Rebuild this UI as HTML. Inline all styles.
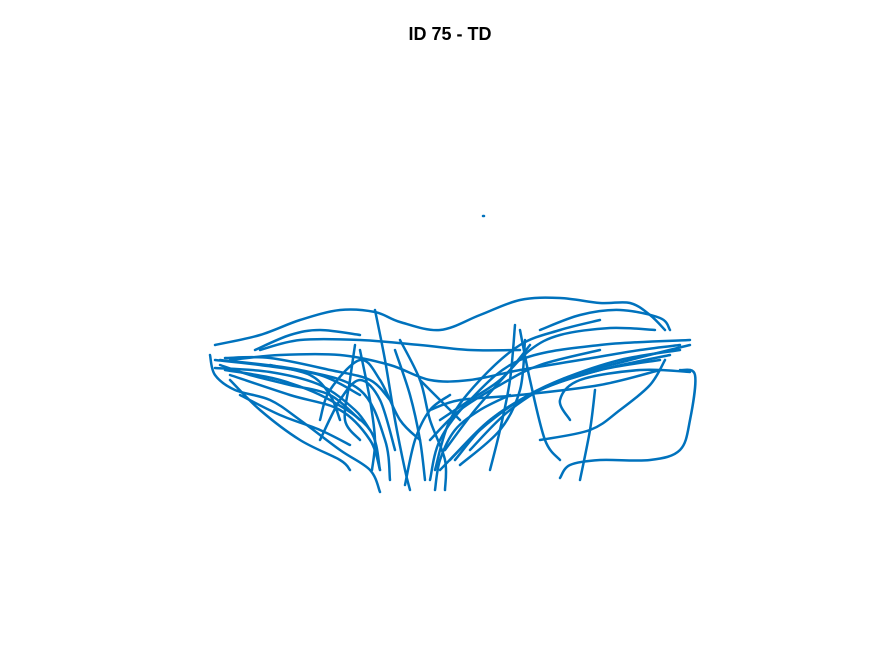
<!DOCTYPE html>
<html><head><meta charset="utf-8">
<style>
html,body{margin:0;padding:0;background:#fff;}
svg{display:block;}
</style></head>
<body>
<svg id="chart" width="875" height="656" xmlns="http://www.w3.org/2000/svg">
<rect x="0" y="0" width="875" height="656" fill="#fff"/>
<text x="450" y="40" text-anchor="middle" font-family="Liberation Sans, sans-serif" font-weight="bold" font-size="18" fill="#000">ID 75 - TD</text>
<g id="plot"></g>
</svg>
<script>
// trajectory strokes: x values and y values (data units)
const strokeXs = [
 [15,60,100,140,175,200,240,280,320,360,400,430,450,465],
 [10,15,35,70,100,140,170,180],
 [20,100,160,185,190],
 [480,495,490,480,450,400,370,360],
 [400,360,320,280,250,235],
 [470,400,340,290,255],
 [490,400,320,270,240,230],
 [175,185,195,205,210],
 [315,310,300,290],
 [30,80,140,190,230,270,320,380,440,480],
 [25,80,130,170,180],
 [60,100,160,220,270,320],
 [370,360,380,440,490],
 [340,390,420,450,465],
 [30,60,100,140,150],
 [155,150,145,160],
 [120,130,160,180,200,220],
 [240,270,300,330,360,410,455],
 [320,330,345,360],
 [395,390,380],
 [70,110,130,140],
 [230,260,320,400,460],
 [200,220,230,245,245],
 [15,60,120,160],
 [20,50,90,130,160],
 [25,70,130,170,190],
 [30,90,140,170,180],
 [240,280,320,360,420,480],
 [250,290,340,400,460],
 [245,275,310,330],
 [260,300,320,325],
 [270,310,360,430,490],
 [340,380,420,460,470],
 [160,170,175,172],
 [195,210,220,225],
 [55,90,120,160],
 [220,240,260],
 [230,260,300,340,400],
 [235,240,255,280,310],
 [205,215,230,250],
 [120,140,160,180,195],
 [15,70,120,155,170],
 [40,80,120,150],
 [283,284]
];
const strokeYs = [
 [55,45,30,20,22,32,40,25,10,8,13,13,25,40],
 [65,85,100,110,130,160,180,202],
 [70,80,100,150,190],
 [80,85,130,160,170,170,175,188],
 [30,40,55,90,130,180],
 [65,80,100,130,170],
 [50,55,70,110,150,190],
 [20,70,130,180,200],
 [35,90,140,180],
 [70,65,65,75,90,90,80,70,60,55],
 [80,90,110,140,180],
 [60,50,50,55,60,60],
 [130,110,90,80,82],
 [150,140,120,95,70],
 [90,120,150,170,180],
 [55,90,130,150],
 [130,100,70,90,130,150],
 [130,110,90,60,45,38,40],
 [40,90,150,170],
 [100,140,190],
 [75,85,105,130],
 [120,110,105,95,80],
 [50,90,130,170,200],
 [70,75,85,105],
 [75,85,95,105,130],
 [68,68,80,90,110],
 [85,105,120,150,180],
 [180,140,110,90,70,60],
 [170,130,100,80,70],
 [160,120,80,55],
 [175,140,100,50],
 [160,120,90,70,55],
 [40,25,20,28,40],
 [60,110,150,180],
 [60,105,150,190],
 [60,45,40,45],
 [90,110,130],
 [150,120,95,75,60],
 [200,170,140,120,105],
 [195,150,120,105],
 [150,110,90,110,160],
 [78,82,95,120,140],
 [105,125,140,155],
 [-74,-74]
];
const X0 = 200, Y0 = 290;
function xScale(v){ return X0 + v; }
function yScale(v){ return Y0 + v; }
function smoothPath(pts){
  if (pts.length < 3) return 'M' + pts.map(p => p.join(',')).join(' L');
  let d = 'M' + pts[0][0] + ',' + pts[0][1];
  for (let i = 0; i < pts.length - 1; i++) {
    const p0 = pts[i - 1] || pts[i], p1 = pts[i], p2 = pts[i + 1], p3 = pts[i + 2] || p2;
    const c1x = p1[0] + (p2[0] - p0[0]) / 6, c1y = p1[1] + (p2[1] - p0[1]) / 6;
    const c2x = p2[0] - (p3[0] - p1[0]) / 6, c2y = p2[1] - (p3[1] - p1[1]) / 6;
    d += ' C' + c1x + ',' + c1y + ' ' + c2x + ',' + c2y + ' ' + p2[0] + ',' + p2[1];
  }
  return d;
}
const plot = document.getElementById('plot');
const NS = 'http://www.w3.org/2000/svg';
strokeXs.forEach((xs, i) => {
  const ys = strokeYs[i];
  const pts = xs.map((x, j) => [xScale(x), yScale(ys[j])]);
  const p = document.createElementNS(NS, 'path');
  p.setAttribute('d', smoothPath(pts));
  p.setAttribute('fill', 'none');
  p.setAttribute('stroke', '#0072BD');
  p.setAttribute('stroke-width', '2.5');
  p.setAttribute('stroke-linejoin', 'round');
  p.setAttribute('stroke-linecap', 'round');
  
  
  plot.appendChild(p);
});
</script>
</body></html>
